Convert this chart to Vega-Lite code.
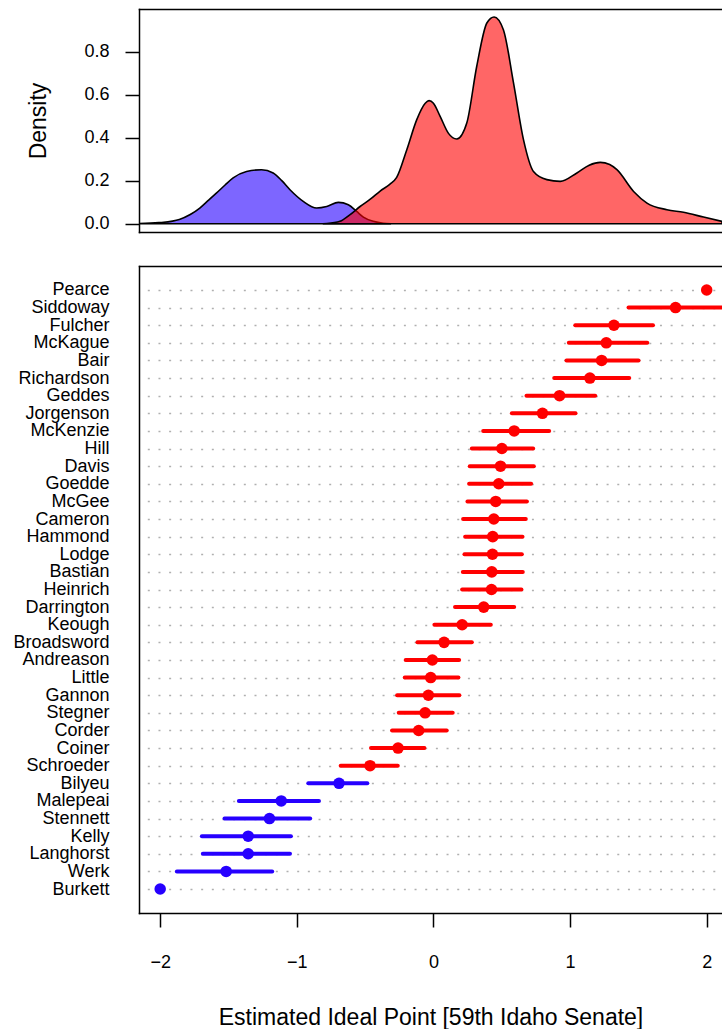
{
  "$schema": "https://vega.github.io/schema/vega-lite/v6.json",
  "padding": {"left": 12, "top": 9, "right": 0, "bottom": 0},
  "background": "white",
  "spacing": 33,
  "config": {
    "view": {"stroke": null},
    "font": "Liberation Sans",
    "axis": {
      "labelFont": "Liberation Sans", "titleFont": "Liberation Sans",
      "labelColor": "black", "titleColor": "black",
      "labelFontSize": 18, "titleFontSize": 23, "titleFontWeight": "normal",
      "tickColor": "black", "tickWidth": 1.5,
      "domainColor": "black", "domainWidth": 1.5, "domainCap": "square",
      "grid": false
    }
  },
  "datasets": {
    "density": [
      {"party": "D", "x": -2.155, "density": 0.001},
      {"party": "D", "x": -2.01, "density": 0.005},
      {"party": "D", "x": -1.91, "density": 0.012},
      {"party": "D", "x": -1.86, "density": 0.02},
      {"party": "D", "x": -1.78, "density": 0.043},
      {"party": "D", "x": -1.71, "density": 0.073},
      {"party": "D", "x": -1.65, "density": 0.107},
      {"party": "D", "x": -1.587, "density": 0.143},
      {"party": "D", "x": -1.525, "density": 0.18},
      {"party": "D", "x": -1.466, "density": 0.213},
      {"party": "D", "x": -1.368, "density": 0.243},
      {"party": "D", "x": -1.258, "density": 0.251},
      {"party": "D", "x": -1.173, "density": 0.236},
      {"party": "D", "x": -1.11, "density": 0.2},
      {"party": "D", "x": -1.05, "density": 0.158},
      {"party": "D", "x": -0.953, "density": 0.104},
      {"party": "D", "x": -0.855, "density": 0.073},
      {"party": "D", "x": -0.781, "density": 0.08},
      {"party": "D", "x": -0.696, "density": 0.099},
      {"party": "D", "x": -0.623, "density": 0.088},
      {"party": "D", "x": -0.562, "density": 0.057},
      {"party": "D", "x": -0.513, "density": 0.031},
      {"party": "D", "x": -0.44, "density": 0.011},
      {"party": "D", "x": -0.367, "density": 0.002},
      {"party": "D", "x": -0.31, "density": 0.0},
      {"party": "R", "x": -0.81, "density": 0.0},
      {"party": "R", "x": -0.78, "density": 0.001},
      {"party": "R", "x": -0.684, "density": 0.011},
      {"party": "R", "x": -0.61, "density": 0.042},
      {"party": "R", "x": -0.537, "density": 0.08},
      {"party": "R", "x": -0.46, "density": 0.115},
      {"party": "R", "x": -0.39, "density": 0.152},
      {"party": "R", "x": -0.32, "density": 0.183},
      {"party": "R", "x": -0.269, "density": 0.215},
      {"party": "R", "x": -0.195, "density": 0.344},
      {"party": "R", "x": -0.122, "density": 0.484},
      {"party": "R", "x": -0.06, "density": 0.56},
      {"party": "R", "x": -0.032, "density": 0.572},
      {"party": "R", "x": 0.0, "density": 0.56},
      {"party": "R", "x": 0.049, "density": 0.499},
      {"party": "R", "x": 0.11, "density": 0.42},
      {"party": "R", "x": 0.171, "density": 0.394},
      {"party": "R", "x": 0.244, "density": 0.468},
      {"party": "R", "x": 0.317, "density": 0.732},
      {"party": "R", "x": 0.391, "density": 0.933},
      {"party": "R", "x": 0.444, "density": 0.961},
      {"party": "R", "x": 0.512, "density": 0.902},
      {"party": "R", "x": 0.586, "density": 0.655},
      {"party": "R", "x": 0.659, "density": 0.391},
      {"party": "R", "x": 0.732, "density": 0.243},
      {"party": "R", "x": 0.83, "density": 0.205},
      {"party": "R", "x": 0.928, "density": 0.197},
      {"party": "R", "x": 1.05, "density": 0.236},
      {"party": "R", "x": 1.14, "density": 0.272},
      {"party": "R", "x": 1.221, "density": 0.285},
      {"party": "R", "x": 1.29, "density": 0.275},
      {"party": "R", "x": 1.343, "density": 0.251},
      {"party": "R", "x": 1.465, "density": 0.15},
      {"party": "R", "x": 1.563, "density": 0.096},
      {"party": "R", "x": 1.709, "density": 0.065},
      {"party": "R", "x": 1.83, "density": 0.053},
      {"party": "R", "x": 1.977, "density": 0.031},
      {"party": "R", "x": 2.112, "density": 0.011}
    ],
    "senators": [
      {"rank": 35, "name": "Pearce", "party": "R", "est": 2.0, "lo": null, "hi": null},
      {"rank": 34, "name": "Siddoway", "party": "R", "est": 1.772, "lo": 1.428, "hi": 2.2},
      {"rank": 33, "name": "Fulcher", "party": "R", "est": 1.321, "lo": 1.038, "hi": 1.607},
      {"rank": 32, "name": "McKague", "party": "R", "est": 1.265, "lo": 0.991, "hi": 1.565},
      {"rank": 31, "name": "Bair", "party": "R", "est": 1.231, "lo": 0.974, "hi": 1.501},
      {"rank": 30, "name": "Richardson", "party": "R", "est": 1.145, "lo": 0.884, "hi": 1.433},
      {"rank": 29, "name": "Geddes", "party": "R", "est": 0.923, "lo": 0.681, "hi": 1.184},
      {"rank": 28, "name": "Jorgenson", "party": "R", "est": 0.798, "lo": 0.574, "hi": 1.04},
      {"rank": 27, "name": "McKenzie", "party": "R", "est": 0.591, "lo": 0.364, "hi": 0.847},
      {"rank": 26, "name": "Hill", "party": "R", "est": 0.501, "lo": 0.281, "hi": 0.73},
      {"rank": 25, "name": "Davis", "party": "R", "est": 0.491, "lo": 0.266, "hi": 0.735},
      {"rank": 24, "name": "Goedde", "party": "R", "est": 0.478, "lo": 0.261, "hi": 0.715},
      {"rank": 23, "name": "McGee", "party": "R", "est": 0.456, "lo": 0.249, "hi": 0.684},
      {"rank": 22, "name": "Cameron", "party": "R", "est": 0.442, "lo": 0.217, "hi": 0.676},
      {"rank": 21, "name": "Hammond", "party": "R", "est": 0.434, "lo": 0.232, "hi": 0.652},
      {"rank": 20, "name": "Lodge", "party": "R", "est": 0.432, "lo": 0.227, "hi": 0.647},
      {"rank": 19, "name": "Bastian", "party": "R", "est": 0.427, "lo": 0.215, "hi": 0.654},
      {"rank": 18, "name": "Heinrich", "party": "R", "est": 0.425, "lo": 0.21, "hi": 0.644},
      {"rank": 17, "name": "Darrington", "party": "R", "est": 0.368, "lo": 0.158, "hi": 0.591},
      {"rank": 16, "name": "Keough", "party": "R", "est": 0.21, "lo": 0.007, "hi": 0.42},
      {"rank": 15, "name": "Broadsword", "party": "R", "est": 0.078, "lo": -0.117, "hi": 0.281},
      {"rank": 14, "name": "Andreason", "party": "R", "est": -0.008, "lo": -0.203, "hi": 0.188},
      {"rank": 13, "name": "Little", "party": "R", "est": -0.02, "lo": -0.21, "hi": 0.183},
      {"rank": 12, "name": "Gannon", "party": "R", "est": -0.037, "lo": -0.266, "hi": 0.19},
      {"rank": 11, "name": "Stegner", "party": "R", "est": -0.061, "lo": -0.254, "hi": 0.141},
      {"rank": 10, "name": "Corder", "party": "R", "est": -0.108, "lo": -0.303, "hi": 0.097},
      {"rank": 9, "name": "Coiner", "party": "R", "est": -0.259, "lo": -0.457, "hi": -0.066},
      {"rank": 8, "name": "Schroeder", "party": "R", "est": -0.464, "lo": -0.679, "hi": -0.261},
      {"rank": 7, "name": "Bilyeu", "party": "D", "est": -0.691, "lo": -0.916, "hi": -0.484},
      {"rank": 6, "name": "Malepeai", "party": "D", "est": -1.114, "lo": -1.424, "hi": -0.838},
      {"rank": 5, "name": "Stennett", "party": "D", "est": -1.2, "lo": -1.529, "hi": -0.902},
      {"rank": 4, "name": "Kelly", "party": "D", "est": -1.356, "lo": -1.695, "hi": -1.043},
      {"rank": 3, "name": "Langhorst", "party": "D", "est": -1.356, "lo": -1.688, "hi": -1.05},
      {"rank": 2, "name": "Werk", "party": "D", "est": -1.517, "lo": -1.878, "hi": -1.18},
      {"rank": 1, "name": "Burkett", "party": "D", "est": -2.0, "lo": null, "hi": null}
    ]
  },
  "vconcat": [
    {
      "width": 583,
      "height": 223,
      "data": {"name": "density"},
      "encoding": {
        "y": {
          "field": "density", "type": "quantitative", "stack": null,
          "scale": {"domain": [-0.0385, 0.998], "nice": false, "zero": false},
          "axis": {
            "values": [0, 0.2, 0.4, 0.6, 0.8], "format": ".1f",
            "tickSize": 14, "labelPadding": 16, "domain": true,
            "title": "Density", "titleX": -101, "titleY": 111.5,
            "titleAngle": 270, "titleAlign": "center", "titleBaseline": "middle"
          }
        }
      },
      "layer": [
        {
          "transform": [{"filter": "datum.party === 'D'"}],
          "mark": {"type": "area", "interpolate": "monotone", "fill": "#2600ff", "fillOpacity": 0.6, "stroke": "black", "strokeWidth": 1.6, "clip": true},
          "encoding": {
            "x": {
              "field": "x", "type": "quantitative",
              "scale": {"domain": [-2.155, 2.112], "nice": false, "zero": false},
              "axis": {"orient": "bottom", "labels": false, "ticks": false, "title": null, "domain": true}
            }
          }
        },
        {
          "transform": [{"filter": "datum.party === 'R'"}],
          "mark": {"type": "area", "interpolate": "monotone", "fill": "#ff0000", "fillOpacity": 0.6, "stroke": "black", "strokeWidth": 1.6, "clip": true},
          "encoding": {
            "x": {
              "field": "x", "type": "quantitative",
              "scale": {"domain": [-2.155, 2.112], "nice": false, "zero": false},
              "axis": {"orient": "top", "labels": false, "ticks": false, "title": null, "domain": true}
            }
          }
        }
      ],
      "resolve": {"axis": {"x": "independent"}}
    },
    {
      "width": 583,
      "height": 647,
      "data": {"name": "senators"},
      "encoding": {
        "y": {
          "field": "rank", "type": "quantitative",
          "scale": {"domain": [-0.36, 36.36], "nice": false, "zero": false},
          "axis": {
            "title": null, "ticks": false, "domain": true, "labelPadding": 30,
            "values": [1, 2, 3, 4, 5, 6, 7, 8, 9, 10, 11, 12, 13, 14, 15, 16, 17, 18, 19, 20, 21, 22, 23, 24, 25, 26, 27, 28, 29, 30, 31, 32, 33, 34, 35],
            "labelExpr": "['', 'Burkett', 'Werk', 'Langhorst', 'Kelly', 'Stennett', 'Malepeai', 'Bilyeu', 'Schroeder', 'Coiner', 'Corder', 'Stegner', 'Gannon', 'Little', 'Andreason', 'Broadsword', 'Keough', 'Darrington', 'Heinrich', 'Bastian', 'Lodge', 'Hammond', 'Cameron', 'McGee', 'Goedde', 'Davis', 'Hill', 'McKenzie', 'Jorgenson', 'Geddes', 'Richardson', 'Bair', 'McKague', 'Fulcher', 'Siddoway', 'Pearce'][datum.value]",
            "labelOverlap": false,
            "grid": true, "gridColor": "#b0b0b0", "gridWidth": 1.5,
            "gridDash": [2, 8.67], "gridDashOffset": 2.37
          }
        },
        "color": {
          "field": "party", "type": "nominal",
          "scale": {"domain": ["R", "D"], "range": ["#ff0000", "#2600ff"]},
          "legend": null
        }
      },
      "layer": [
        {
          "transform": [{"filter": "datum.lo != null"}],
          "mark": {"type": "rule", "strokeWidth": 4, "strokeCap": "round", "clip": true},
          "encoding": {
            "x": {
              "field": "lo", "type": "quantitative",
              "scale": {"domain": [-2.155, 2.112], "nice": false, "zero": false},
              "axis": {
                "orient": "bottom", "values": [-2, -1, 0, 1, 2], "format": "d",
                "tickSize": 14, "labelPadding": 26, "domain": true,
                "title": "Estimated Ideal Point [59th Idaho Senate]",
                "titleY": 104, "titleBaseline": "middle"
              }
            },
            "x2": {"field": "hi"}
          }
        },
        {
          "mark": {"type": "circle", "size": 133, "opacity": 1, "clip": true},
          "encoding": {
            "x": {
              "field": "est", "type": "quantitative",
              "scale": {"domain": [-2.155, 2.112], "nice": false, "zero": false},
              "axis": {"orient": "top", "labels": false, "ticks": false, "title": null, "domain": true}
            }
          }
        }
      ],
      "resolve": {"axis": {"x": "independent"}}
    }
  ]
}
